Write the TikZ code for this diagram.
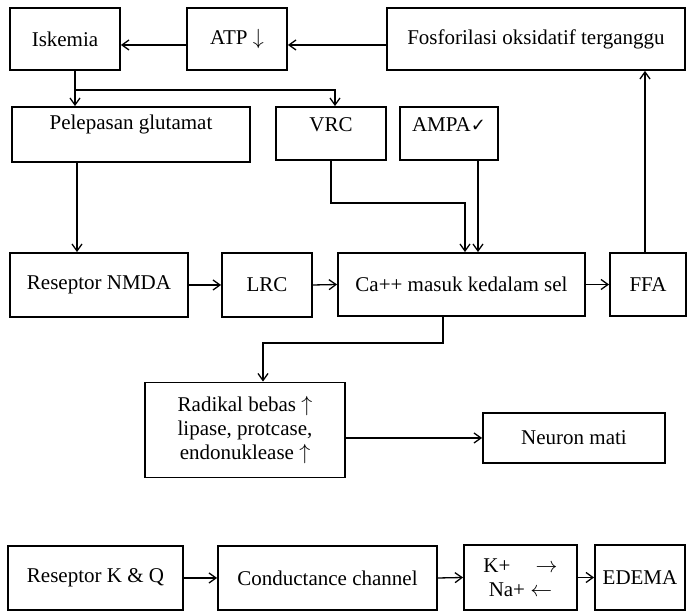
\documentclass[tikz,border=0pt]{standalone}
\usepackage{fontspec}
\setmainfont{Liberation Serif}
\newfontfamily\simbol{DejaVu Sans}
\usetikzlibrary{arrows.meta}
\tikzset{
	kotak/.style={draw, line width=0.9pt, inner sep=0pt, align=center, font=\fontsize{10.5}{12}\selectfont},
	panah/.style={line width=0.65pt, -{Straight Barb[length=3.5pt,width=5pt]}}
}

\begin{document}
\begin{tikzpicture}[x=0.5pt, y=-0.5pt]
		%%%%% START %%%%%
		
		\useasboundingbox (0, 0) rectangle (687, 613);
		
		\node[kotak, minimum width=55pt, minimum height=31pt] (iskemia) at (65, 39) {Iskemia};
		\node[kotak, minimum width=50pt, minimum height=31pt] (atp) at (237, 39) {ATP $\downarrow$};
		\node[kotak, minimum width=149pt, minimum height=31pt] (fosf) at (536, 39) {Fosforilasi oksidatif terganggu};
		
		\node[kotak, minimum width=119pt, minimum height=27.5pt, text depth=12pt] (pelepasan) at (131, 134.5) {Pelepasan glutamat};
		\node[kotak, minimum width=55pt, minimum height=26.5pt, text depth=9pt] (vrc) at (331, 133.5) {VRC};
		\node[kotak, minimum width=49pt, minimum height=26.5pt, text depth=9pt] (ampa) at (449, 133.5) {AMPA{\simbol\small ✓}};
		
		\node[kotak, minimum width=89pt, minimum height=32pt] (nmda) at (99, 285) {Reseptor NMDA};
		\node[kotak, minimum width=45pt, minimum height=32pt] (lrc) at (267, 285) {LRC};
		\node[kotak, minimum width=123.5pt, minimum height=31.5pt] (ca) at (461.5, 284.5) {Ca++ masuk kedalam sel};
		\node[kotak, minimum width=38pt, minimum height=31.5pt] (ffa) at (648, 284.5) {FFA};
		
		\node[kotak, minimum width=100pt, minimum height=47.5pt] (radikal) at (245, 430) {Radikal bebas $\uparrow$\\lipase, protcase,\\endonuklease $\uparrow$};
		\node[kotak, minimum width=91pt, minimum height=25pt] (neuron) at (574, 438) {Neuron mati};
		
		\node[kotak, minimum width=87.5pt, minimum height=32pt] (kq) at (95.5, 578) {Reseptor K \& Q};
		\node[kotak, minimum width=109.5pt, minimum height=32pt] (cond) at (327.5, 578) {Conductance channel};
		\node[kotak, minimum width=56.5pt, minimum height=32.5pt] (kna) at (520.5, 577.5) {K+\hspace{1.2em}$\rightarrow$\\Na+ $\leftarrow$};
		\node[kotak, minimum width=45pt, minimum height=32.5pt] (edema) at (640, 577.5) {EDEMA};
		
		\draw[panah] ([yshift=-3pt]fosf.west) -- ([yshift=-3pt]atp.east);
		\draw[panah] ([yshift=-3pt]atp.west) -- ([yshift=-3pt]iskemia.east);
		
		\draw[panah] ([xshift=5pt]iskemia.south) -- ([xshift=5pt]iskemia.south |- pelepasan.north);
		\coordinate (cabang) at (75, 90);
		\draw[panah] (cabang) -| ([xshift=2pt]vrc.north);
		
		\draw[panah] ([xshift=-11pt]nmda.north |- pelepasan.south) -- ([xshift=-11pt]nmda.north);
		\draw[panah] (vrc.south) -- ++(0, 42) -| ([xshift=1.75pt]ca.north);
		\draw[panah] ([xshift=14.5pt]ampa.south) -- ([xshift=14.5pt]ampa.south |- ca.north);
		
		\draw[panah] (nmda.east) -- (lrc.west);
		\draw[panah] (lrc.east) -- (ca.west);
		\draw[panah] (ca.east) -- (ffa.west);
		\draw[panah] ([xshift=-1.5pt]ffa.north) -- ([xshift=-1.5pt]ffa.north |- fosf.south);
		
		\draw[panah] ([xshift=-9.25pt]ca.south) -- ++(0, 26) -| ([xshift=9pt]radikal.north);
		\draw[panah] (radikal.east |- neuron.west) -- (neuron.west);
		
		\draw[panah] (kq.east) -- (cond.west);
		\draw[panah] (cond.east) -- (kna.west);
		\draw[panah] (kna.east) -- (edema.west);
		
		%%%%% END %%%%%
	\end{tikzpicture}
\end{document}
